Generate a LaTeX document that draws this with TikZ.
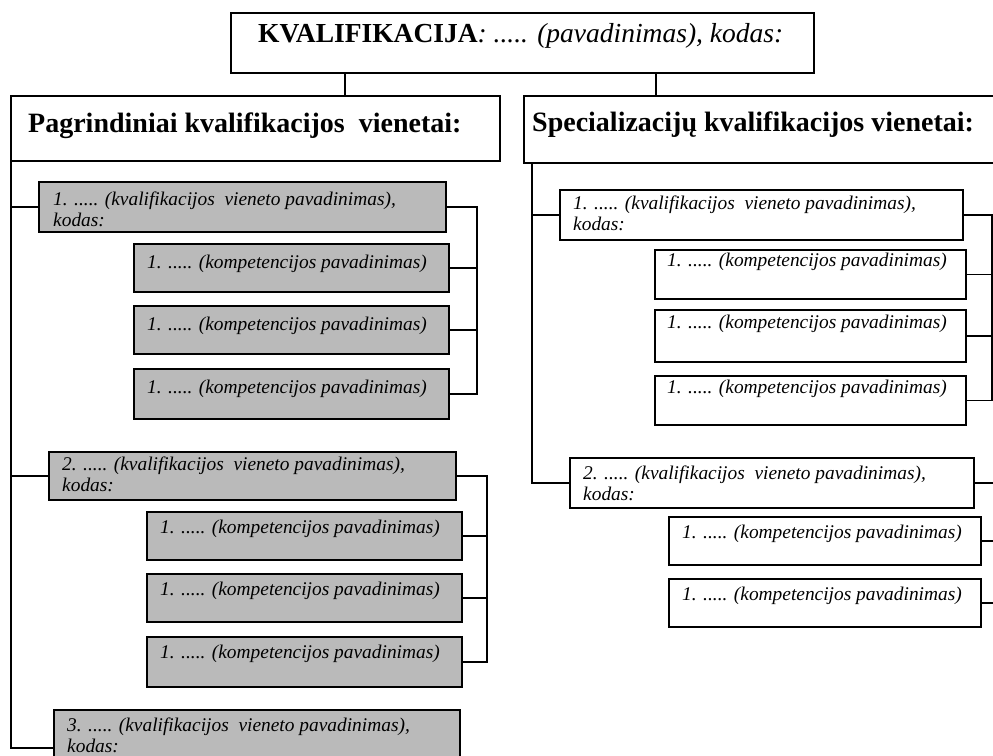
\documentclass[tikz,border=0pt]{standalone}
\usepackage{fontspec}
\setmainfont{Liberation Serif}
\begin{document}
\begin{tikzpicture}[x=1pt,y=-1pt,
  ln/.style={line width=1.7pt},
  box/.style={draw, line width=1.8pt, anchor=north west, inner sep=0pt},
  gbox/.style={box, fill=black!27},
  tx/.style={anchor=base west, inner sep=0pt, align=left, font=\fontsize{19.4}{21}\selectfont\itshape},
  hx/.style={anchor=base west, inner sep=0pt, font=\fontsize{28}{30}\selectfont\bfseries},
  sz/.style 2 args={minimum width=#1pt, minimum height=#2pt},
]
\clip (0,0) rectangle (993,755);
\fill[white] (0,0) rectangle (993,755);
\coordinate (edge) at (1000,0);

% top
\node[box, sz={583}{60}, label={[anchor=base west, inner sep=0pt, xshift=28pt, yshift=-30pt, font=\fontsize{27.5}{28}\selectfont]north west:{\textbf{KVALIFIKACIJA}\textit{: ..... (pavadinimas), kodas:}}}] (T) at (230,12) {};

% headers
\node[box, sz={489}{65}, label={[hx, xshift=18pt, yshift=-37pt]north west:{Pagrindiniai kvalifikacijos\ \ vienetai:}}] (LH) at (10,95) {};
\node[box, sz={490}{67}, label={[hx, xshift=9pt, yshift=-36pt]north west:{Specializacijų kvalifikacijos vienetai:}}] (RH) at (523,95) {};

% left group 1
\node[gbox, sz={407}{50}, label={[tx, xshift=15pt, yshift=-45pt]north west:{1. ..... (kvalifikacijos\ \ vieneto pavadinimas),\\kodas:}}] (U1) at (38,181) {};
\node[gbox, sz={315}{48}, label={[tx, xshift=14pt, yshift=-25pt]north west:{1. ..... (kompetencijos pavadinimas)}}] (C11) at (133,243) {};
\node[gbox, sz={315}{48}, label={[tx, xshift=14pt, yshift=-25pt]north west:{1. ..... (kompetencijos pavadinimas)}}] (C12) at (133,305) {};
\node[gbox, sz={315}{50}, label={[tx, xshift=14pt, yshift=-25pt]north west:{1. ..... (kompetencijos pavadinimas)}}] (C13) at (133,368) {};

% left group 2
\node[gbox, sz={407}{48}, label={[tx, xshift=14pt, yshift=-40pt]north west:{2. ..... (kvalifikacijos\ \ vieneto pavadinimas),\\kodas:}}] (U2) at (48,451) {};
\node[gbox, sz={315}{48}, label={[tx, xshift=14pt, yshift=-22pt]north west:{1. ..... (kompetencijos pavadinimas)}}] (C21) at (146,511) {};
\node[gbox, sz={315}{48}, label={[tx, xshift=14pt, yshift=-22pt]north west:{1. ..... (kompetencijos pavadinimas)}}] (C22) at (146,573) {};
\node[gbox, sz={315}{50}, label={[tx, xshift=14pt, yshift=-22pt]north west:{1. ..... (kompetencijos pavadinimas)}}] (C23) at (146,636) {};

% left group 3
\node[gbox, sz={406}{52}, label={[tx, xshift=14pt, yshift=-43pt]north west:{3. ..... (kvalifikacijos\ \ vieneto pavadinimas),\\kodas:}}] (U3) at (53,709) {};

% right group 1
\node[box, sz={403}{50}, label={[tx, xshift=14pt, yshift=-41pt]north west:{1. ..... (kvalifikacijos\ \ vieneto pavadinimas),\\kodas:}}] (R1) at (559,189) {};
\node[box, sz={311}{49}, label={[tx, xshift=13pt, yshift=-17pt]north west:{1. ..... (kompetencijos pavadinimas)}}] (RC11) at (654,249) {};
\node[box, sz={311}{52}, label={[tx, xshift=13pt, yshift=-19pt]north west:{1. ..... (kompetencijos pavadinimas)}}] (RC12) at (654,309) {};
\node[box, sz={311}{49}, label={[tx, xshift=13pt, yshift=-18pt]north west:{1. ..... (kompetencijos pavadinimas)}}] (RC13) at (654,375) {};

% right group 2
\node[box, sz={404}{50}, label={[tx, xshift=14pt, yshift=-43pt]north west:{2. ..... (kvalifikacijos\ \ vieneto pavadinimas),\\kodas:}}] (R2) at (569,457) {};
\node[box, sz={312}{48}, label={[tx, xshift=14pt, yshift=-22pt]north west:{1. ..... (kompetencijos pavadinimas)}}] (RC21) at (668,516) {};
\node[box, sz={312}{48}, label={[tx, xshift=14pt, yshift=-22pt]north west:{1. ..... (kompetencijos pavadinimas)}}] (RC22) at (668,578) {};

% connectors top
\draw[ln] ([xshift=115pt]T.south west) -- ([xshift=115pt]T.south west |- LH.north);
\draw[ln] ([xshift=426pt]T.south west) -- ([xshift=426pt]T.south west |- RH.north);

% left trunk
\coordinate (lt) at ([xshift=1pt]LH.south west);
\draw[ln] (lt) |- ([yshift=-39pt]U3.north west);
\draw[ln] (U1.west) -- (U1.west -| lt);
\draw[ln] (U2.west) -- (U2.west -| lt);

% left brackets
\draw[ln] (U1.east) -- ++(30,0) coordinate (b1) |- (C13.east);
\draw[ln] (C11.east) -- (C11.east -| b1);
\draw[ln] (C12.east) -- (C12.east -| b1);
\draw[ln] (U2.east) -- ++(30,0) coordinate (b2) |- (C23.east);
\draw[ln] (C21.east) -- (C21.east -| b2);
\draw[ln] (C22.east) -- (C22.east -| b2);

% right trunk
\coordinate (rt) at ([xshift=9pt]RH.south west);
\draw[ln] (rt) |- (R2.west);
\draw[ln] (R1.west) -- (R1.west -| rt);

% right brackets
\draw[ln] (R1.east) -- ++(28,0) coordinate (b3) |- (RC13.east);
\draw[ln] (RC11.east) -- (RC11.east -| b3);
\draw[ln] (RC12.east) -- (RC12.east -| b3);
\draw[ln] (R2.east) -- (R2.east -| edge);
\draw[ln] (RC21.east) -- (RC21.east -| edge);
\draw[ln] (RC22.east) -- (RC22.east -| edge);
\end{tikzpicture}
\end{document}
